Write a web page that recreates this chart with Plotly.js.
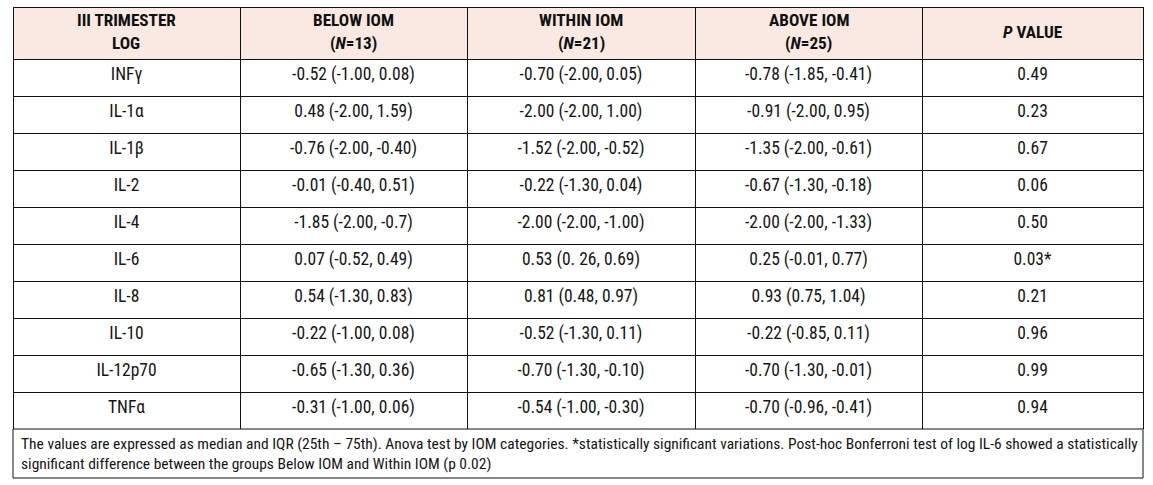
<!DOCTYPE html>
<html>
<head>
<meta charset="utf-8">
<script src="https://cdn.plot.ly/plotly-3.0.1.min.js"></script>
<style>html,body{margin:0;padding:0;background:#fff;}</style>
</head>
<body>
<div id="chart" style="width:1153px;height:485px;"></div>
<script>
const headerLine1 = ["III TRIMESTER", "BELOW IOM", "WITHIN IOM", "ABOVE IOM", "<i>P</i> VALUE"];
const headerLine2 = ["LOG", "(<i>N</i>=13)", "(<i>N</i>=21)", "(<i>N</i>=25)", ""];
const cytokines = ["INFγ", "IL-1α", "IL-1β", "IL-2", "IL-4", "IL-6", "IL-8", "IL-10", "IL-12p70", "TNFα"];
const belowIOM = ["-0.52 (-1.00, 0.08)", "0.48 (-2.00, 1.59)", "-0.76 (-2.00, -0.40)", "-0.01 (-0.40, 0.51)", "-1.85 (-2.00, -0.7)", "0.07 (-0.52, 0.49)", "0.54 (-1.30, 0.83)", "-0.22 (-1.00, 0.08)", "-0.65 (-1.30, 0.36)", "-0.31 (-1.00, 0.06)"];
const withinIOM = ["-0.70 (-2.00, 0.05)", "-2.00 (-2.00, 1.00)", "-1.52 (-2.00, -0.52)", "-0.22 (-1.30, 0.04)", "-2.00 (-2.00, -1.00)", "0.53 (0. 26, 0.69)", "0.81 (0.48, 0.97)", "-0.52 (-1.30, 0.11)", "-0.70 (-1.30, -0.10)", "-0.54 (-1.00, -0.30)"];
const aboveIOM = ["-0.78 (-1.85, -0.41)", "-0.91 (-2.00, 0.95)", "-1.35 (-2.00, -0.61)", "-0.67 (-1.30, -0.18)", "-2.00 (-2.00, -1.33)", "0.25 (-0.01, 0.77)", "0.93 (0.75, 1.04)", "-0.22 (-0.85, 0.11)", "-0.70 (-1.30, -0.01)", "-0.70 (-0.96, -0.41)"];
const pValues = ["0.49", "0.23", "0.67", "0.06", "0.50", "0.03*", "0.21", "0.96", "0.99", "0.94"];
const footnote = "The values are expressed as median and IQR (25th – 75th). Anova test by IOM categories. *statistically significant variations. Post-hoc Bonferroni test of log IL-6 showed a statistically<br>significant difference between the groups Below IOM and Within IOM (p 0.02)";

const W = 1153, H = 485;
const FONT = "Roboto Condensed, Liberation Sans, Arial, sans-serif";
const x0 = 13, x1 = 1143, yTop = 7, headerH = 52, cellH = 37, noteBottom = 478;
const colW = [227, 227, 228, 227, 221];
const tableBottom = yTop + headerH + cellH * cytokines.length;

const trace = {
  type: "table",
  domain: {x: [x0 / W, x1 / W], y: [1 - tableBottom / H, 1 - yTop / H]},
  columnwidth: colW,
  header: {
    values: colW.map(() => ""),
    align: "center",
    height: headerH,
    fill: {color: "#f9e9e2"},
    line: {color: "#111", width: 1},
    font: {family: FONT, size: 15, color: "#111", weight: "bold"}
  },
  cells: {
    values: [cytokines, belowIOM, withinIOM, aboveIOM, pValues],
    align: "center",
    height: cellH,
    fill: {color: "#ffffff"},
    line: {color: "#111", width: 1},
    font: {family: FONT, size: 17.5, color: "#151515"}
  }
};

const annotations = [];
let cx = x0;
colW.forEach((w, i) => {
  const mid = (cx + w / 2) / W;
  const hFont = {family: FONT, size: 17.2, color: "#111", weight: "bold"};
  if (headerLine2[i]) {
    annotations.push({xref: "paper", yref: "paper", x: mid, y: 1 - 20.5 / H, xanchor: "center", yanchor: "middle", showarrow: false, text: headerLine1[i], font: hFont});
    annotations.push({xref: "paper", yref: "paper", x: mid, y: 1 - 42.5 / H, xanchor: "center", yanchor: "middle", showarrow: false, text: headerLine2[i], font: hFont});
  } else {
    annotations.push({xref: "paper", yref: "paper", x: mid, y: 1 - 32 / H, xanchor: "center", yanchor: "middle", showarrow: false, text: headerLine1[i], font: hFont});
  }
  cx += w;
});
annotations.push({xref: "paper", yref: "paper", x: 19 / W, y: 1 - 454 / H, xanchor: "left", yanchor: "middle", align: "left", showarrow: false,
  text: footnote, font: {family: FONT, size: 15.5, color: "#151515"}});

const layout = {
  width: W, height: H,
  margin: {l: 0, r: 0, t: 0, b: 0},
  paper_bgcolor: "#ffffff",
  shapes: [
    {type: "rect", xref: "paper", yref: "paper", x0: x0 / W, x1: x1 / W, y0: 1 - noteBottom / H, y1: 1 - tableBottom / H, line: {color: "#111", width: 1}, fillcolor: "rgba(0,0,0,0)"}
  ],
  annotations: annotations
};

Plotly.newPlot("chart", [trace], layout, {displayModeBar: false, staticPlot: true});
</script>
</body>
</html>
